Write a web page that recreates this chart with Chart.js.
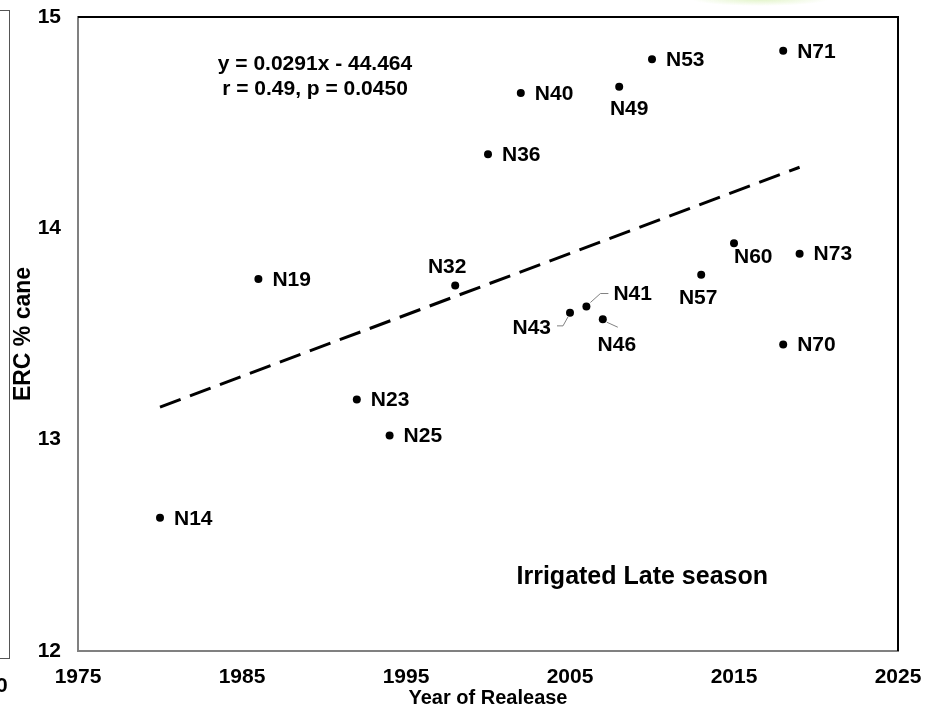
<!DOCTYPE html>
<html>
<head>
<meta charset="utf-8">
<title>ERC % cane vs Year of Release</title>
<script src="https://cdn.jsdelivr.net/npm/chart.js@4.4.1/dist/chart.umd.min.js"></script>
<style>
    html, body { margin: 0; padding: 0; background: #fff; }
    #wrap { position: relative; width: 934px; height: 710px; overflow: hidden; }
    #ercChart { position: absolute; left: 0; top: 0; }
    /* edge of the neighbouring panel */
    .side-panel { position: absolute; left: -2px; top: 10px; width: 11px; height: 647px; border: 1px solid #555; border-left: none; }
    .side-tick { position: absolute; left: -4px; top: 673px; font: bold 21px "Liberation Sans", Arial, sans-serif; color: #000; }
    .haze { position: absolute; left: 690px; top: -8px; width: 140px; height: 14px;
            background: radial-gradient(ellipse at center, rgba(200,235,150,0.55), rgba(255,255,255,0) 70%); }
</style>
</head>
<body>
<div id="wrap">
    <canvas id="ercChart" width="934" height="710"></canvas>
    <div class="side-panel"></div>
    <div class="side-tick">0</div>
    <div class="haze"></div>
</div>
<script>
// Cultivar release data
const cultivars = ['N14', 'N19', 'N23', 'N25', 'N32', 'N36', 'N40', 'N43', 'N41', 'N46', 'N49', 'N53', 'N57', 'N60', 'N70', 'N71', 'N73'];
const releaseYears = [1980, 1986, 1992, 1994, 1998, 2000, 2002, 2005, 2006, 2007, 2008, 2010, 2013, 2015, 2018, 2018, 2019];
const ercValues = [12.63, 13.76, 13.19, 13.02, 13.73, 14.35, 14.64, 13.60, 13.63, 13.57, 14.67, 14.80, 13.78, 13.93, 13.45, 14.84, 13.88];

const xTicks = [1975, 1985, 1995, 2005, 2015, 2025];
const yTicks = [12, 13, 14, 15];

// Regression y = 0.0291x - 44.464
const slope = 0.0291;
const intercept = -44.464;
const fitYears = [1980, 2019];

const FONT = '"Liberation Sans", Arial, sans-serif';

// Where each cultivar name sits relative to its point
const labelPlacement = {
    N32: { dx: -8, dy: -18, align: 'center' },
    N49: { dx: 10, dy: 22, align: 'center' },
    N57: { dx: -3, dy: 23, align: 'center' },
    N60: { dx: 0, dy: 14, align: 'left' },
    N43: { dx: -19, dy: 15, align: 'right', leader: [[-13, 13], [-7, 13], [-2, 4]] },
    N41: { dx: 27, dy: -12, align: 'left', leader: [[4, -4], [14, -13], [22, -13]] },
    N46: { dx: 14, dy: 26, align: 'center', leader: [[4, 3], [15, 8]] }
};
const defaultPlacement = { dx: 14, dy: 1, align: 'left' };

const points = releaseYears.map((yr, i) => ({ x: yr, y: ercValues[i] }));
const fitLine = fitYears.map(yr => ({ x: yr, y: slope * yr + intercept }));

// Point names, leader lines, equation and season caption
const annotations = {
    id: 'annotations',
    afterDatasetsDraw(chart) {
        const ctx = chart.ctx;
        const meta = chart.getDatasetMeta(1);
        const area = chart.chartArea;
        ctx.save();
        ctx.fillStyle = '#000';
        ctx.textBaseline = 'middle';
        ctx.font = 'bold 21px ' + FONT;
        meta.data.forEach((pt, i) => {
            const name = cultivars[i];
            const p = labelPlacement[name] || defaultPlacement;
            if (p.leader) {
                ctx.beginPath();
                ctx.strokeStyle = '#808080';
                ctx.lineWidth = 1;
                p.leader.forEach(([lx, ly], k) => {
                    if (k === 0) ctx.moveTo(pt.x + lx, pt.y + ly);
                    else ctx.lineTo(pt.x + lx, pt.y + ly);
                });
                ctx.stroke();
            }
            ctx.textAlign = p.align;
            ctx.fillText(name, pt.x + p.dx, pt.y + p.dy);
        });

        // regression equation
        ctx.textAlign = 'center';
        ctx.font = 'bold 21px ' + FONT;
        ctx.fillText('y = ' + slope + 'x - ' + Math.abs(intercept), area.left + 237, 64);
        ctx.fillText('r = 0.49, p = 0.0450', area.left + 237, 89);

        ctx.font = 'bold 25px ' + FONT;
        ctx.textAlign = 'right';
        ctx.fillText('Irrigated Late season', 768, 577);

        // top and right frame
        ctx.beginPath();
        ctx.strokeStyle = '#000';
        ctx.lineWidth = 2;
        ctx.moveTo(area.left, area.top);
        ctx.lineTo(area.right, area.top);
        ctx.lineTo(area.right, area.bottom);
        ctx.stroke();
        ctx.restore();
    }
};

function initializeChart() {
    const ctx = document.getElementById('ercChart').getContext('2d');
    new Chart(ctx, {
        type: 'scatter',
        data: {
            datasets: [{
                label: 'Trend',
                data: fitLine,
                showLine: true,
                borderColor: '#000',
                borderWidth: 3,
                borderDash: [22, 10],
                pointRadius: 0,
                fill: false
            }, {
                label: 'ERC % cane',
                data: points,
                pointRadius: 4,
                pointBackgroundColor: '#000',
                pointBorderWidth: 0,
                showLine: false
            }]
        },
        options: {
            responsive: false,
            animation: false,
            layout: {
                padding: { top: 17, right: 36, bottom: 0, left: 0 }
            },
            plugins: {
                legend: { display: false },
                tooltip: { enabled: false }
            },
            scales: {
                x: {
                    type: 'linear',
                    min: 1975,
                    max: 2025,
                    afterBuildTicks: scale => { scale.ticks = xTicks.map(v => ({ value: v })); },
                    afterFit: scale => {
                        scale.height = 59;
                        scale.paddingLeft = 0;
                        scale.paddingRight = 0;
                    },
                    grid: { display: false, drawTicks: false },
                    border: { display: true, color: '#808080', width: 2 },
                    ticks: {
                        padding: 14,
                        color: '#000',
                        font: { family: FONT, size: 21, weight: 'bold' },
                        callback: v => String(v)
                    },
                    title: {
                        display: true,
                        text: 'Year of Realease',
                        color: '#000',
                        padding: 0,
                        font: { family: FONT, size: 20, weight: 'bold' }
                    }
                },
                y: {
                    min: 12,
                    max: 15,
                    afterBuildTicks: scale => { scale.ticks = yTicks.map(v => ({ value: v })); },
                    afterFit: scale => {
                        scale.width = 78;
                        scale.paddingTop = 0;
                        scale.paddingBottom = 0;
                    },
                    grid: { display: false, drawTicks: false },
                    border: { display: true, color: '#808080', width: 2 },
                    ticks: {
                        padding: 17,
                        color: '#000',
                        font: { family: FONT, size: 21, weight: 'bold' },
                        callback: v => String(v)
                    },
                    title: {
                        display: true,
                        text: 'ERC % cane',
                        color: '#000',
                        padding: { top: 10, bottom: 0 },
                        font: { family: FONT, size: 23, weight: 'bold' }
                    }
                }
            }
        },
        plugins: [annotations]
    });
}

document.addEventListener('DOMContentLoaded', initializeChart);
</script>
</body>
</html>
